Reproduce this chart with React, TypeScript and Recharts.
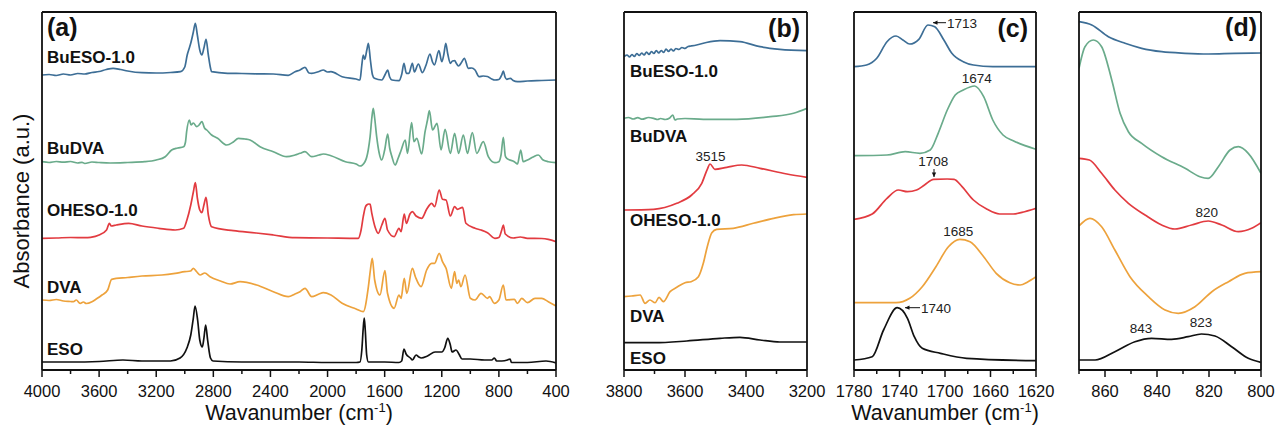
import * as React from 'react'
import { LineChart, Line, XAxis, YAxis } from 'recharts'

type Pt = [number, number]

// series order: BuESO-1.0, BuDVA, OHESO-1.0, DVA, ESO (top to bottom)
const seriesNames = ['BuESO-1.0', 'BuDVA', 'OHESO-1.0', 'DVA', 'ESO']
const seriesColors = ['#3d6e96', '#6aab8b', '#e23b40', '#eda23c', '#111111']

// ---- panel (a): 4000 - 400 cm-1 (stacked absorbance, a.u.)
const aBuEso: Pt[] = [
	[4000, 295], [3950, 295.5], [3900, 294.5], [3850, 296], [3800, 295], [3750, 296.5], [3700, 296],
	[3650, 297.5], [3600, 298.5], [3550, 300.5], [3502, 301.7], [3450, 300.5], [3400, 299], [3300, 297.3],
	[3200, 297], [3100, 297.5], [3030, 298.3], [3000, 303], [2983, 315], [2968, 322], [2956, 328],
	[2940, 338], [2926, 346.7], [2912, 335], [2895, 320], [2880, 315], [2866, 322], [2851, 330.7],
	[2835, 315], [2820, 302], [2812, 298.3], [2700, 296.7], [2600, 296.5], [2500, 296.2], [2380, 296],
	[2275, 294.7], [2228, 298.3], [2193, 300], [2158, 302.7], [2130, 297], [2111, 296.7], [2060, 298.5],
	[2030, 300], [2000, 298], [1976, 298.3], [1898, 293.3], [1800, 291], [1773, 290], [1760, 305],
	[1750, 315], [1740, 310.7], [1725, 320], [1714, 326.7], [1700, 310], [1685, 295], [1672, 291.7],
	[1620, 290], [1595, 296], [1579, 300], [1565, 293], [1549, 290], [1500, 289.3], [1480, 296],
	[1465, 306.7], [1448, 296.7], [1430, 296.7], [1406, 306.7], [1392, 298], [1364, 306], [1336, 297.3],
	[1310, 305], [1283, 316], [1265, 308], [1252, 305], [1220, 319.3], [1200, 308.3], [1185, 316],
	[1172, 326.7], [1158, 316], [1140, 306.7], [1125, 309], [1110, 309.3], [1095, 306], [1082, 304],
	[1060, 308], [1042, 311.7], [1014, 301.7], [990, 302], [967, 300], [939, 293.3], [910, 294],
	[880, 293.5], [850, 291], [828, 290], [800, 290.5], [780, 295], [769, 299], [757, 293], [745, 290.7],
	[720, 291.7], [700, 289.5], [670, 288.3], [600, 289], [500, 289.5], [400, 290],
]
const aBuDva: Pt[] = [
	[4000, 208.3], [3950, 207.5], [3900, 208.5], [3850, 207.8], [3800, 208.5], [3750, 207], [3720, 207.7],
	[3700, 206.5], [3650, 208], [3600, 207.5], [3523, 207], [3400, 207.5], [3280, 208.3], [3200, 210],
	[3137, 213.3], [3092, 220], [3050, 222], [3008, 223.3], [2995, 228], [2987, 238.3], [2968, 250],
	[2956, 245], [2940, 247], [2916, 243.3], [2900, 245], [2880, 248.3], [2862, 242], [2846, 240],
	[2812, 235], [2770, 231.7], [2706, 225], [2660, 228], [2625, 231.7], [2580, 231], [2543, 230],
	[2473, 223.3], [2380, 218.3], [2287, 213.3], [2228, 215], [2193, 216.7], [2158, 218.3], [2111, 213.3],
	[2060, 215], [2030, 216], [1976, 214.3], [1875, 208.3], [1800, 206], [1773, 204], [1738, 208.3],
	[1715, 220], [1702, 233.3], [1690, 252], [1680, 261.7], [1670, 252], [1656, 233.3], [1640, 218],
	[1621, 210], [1600, 220], [1579, 236], [1565, 222], [1549, 213.3], [1527, 205], [1505, 212],
	[1484, 220], [1456, 230], [1440, 216.7], [1411, 247.3], [1395, 228.3], [1375, 231.7], [1341, 216],
	[1317, 238.3], [1300, 250], [1287, 259.3], [1265, 240], [1233, 246.7], [1205, 220], [1177, 240.7],
	[1140, 216.7], [1110, 236.7], [1082, 216.7], [1049, 235], [1020, 216.7], [986, 237.3], [955, 216.7],
	[909, 228.3], [874, 213.3], [828, 207.3], [800, 208.3], [785, 215], [769, 232.7], [755, 214],
	[745, 211.7], [692, 208.3], [670, 206], [647, 220], [630, 208.3], [600, 210], [560, 213], [524, 215],
	[490, 210], [454, 208.3], [400, 207.3],
]
const aOheso: Pt[] = [
	[4000, 131.7], [3900, 132], [3800, 132.5], [3700, 132.3], [3660, 132.7], [3600, 135], [3548, 140],
	[3528, 146.7], [3515, 144], [3480, 145], [3393, 146.7], [3300, 144], [3183, 141.7], [3067, 140],
	[3008, 141.7], [2985, 150], [2958, 165], [2940, 178], [2926, 187.3], [2912, 172], [2895, 160],
	[2880, 157.3], [2866, 165], [2851, 172.7], [2835, 155], [2812, 143.3], [2660, 139.3], [2500, 137],
	[2380, 135], [2228, 132.3], [2000, 132], [1785, 131.7], [1765, 140], [1750, 153.3], [1735, 163],
	[1726, 165], [1710, 166], [1702, 165.7], [1690, 156.7], [1665, 142], [1645, 136.7], [1620, 145],
	[1598, 151.7], [1580, 140], [1534, 133.3], [1500, 141.7], [1485, 138.3], [1463, 156], [1448, 146.7],
	[1423, 156], [1406, 158.3], [1380, 154], [1341, 151.7], [1306, 160.7], [1271, 166.7], [1250, 163.3],
	[1218, 180], [1195, 170.7], [1170, 170], [1140, 154], [1110, 163.3], [1090, 160.7], [1054, 162.7],
	[1031, 146.7], [967, 141.7], [925, 140], [880, 137.3], [828, 131.7], [800, 132.5], [780, 140],
	[769, 145], [755, 136], [700, 132], [650, 133], [600, 131.7], [500, 131.5], [454, 130.7], [400, 128.3],
]
const aDva: Pt[] = [
	[4000, 70], [3950, 69.5], [3900, 70.5], [3850, 69], [3800, 68.5], [3780, 68.3], [3760, 70], [3733, 66.7],
	[3710, 68], [3690, 66.5], [3650, 68.3], [3620, 71], [3580, 75], [3540, 80], [3512, 90.7], [3400, 92.5],
	[3300, 94], [3160, 95], [3067, 96.7], [3000, 98.3], [2960, 99], [2940, 101.7], [2915, 98], [2893, 95],
	[2860, 97], [2823, 93.3], [2750, 89], [2683, 86], [2613, 88.3], [2497, 85], [2380, 78.3], [2275, 73.3],
	[2228, 76], [2193, 78.3], [2158, 81.7], [2111, 73.3], [2060, 76], [2030, 77.3], [1976, 75], [1898, 66.7],
	[1800, 61], [1750, 58.3], [1714, 83.3], [1700, 100], [1687, 111.7], [1670, 90], [1633, 75], [1598, 99.3],
	[1580, 76.7], [1534, 61.7], [1500, 75], [1485, 71.7], [1463, 91.7], [1445, 76.7], [1406, 101.7],
	[1385, 93.3], [1345, 83.3], [1306, 100], [1271, 106.7], [1250, 106.7], [1218, 116.7], [1195, 108.3],
	[1170, 101.7], [1133, 81.7], [1110, 98.3], [1095, 86.7], [1082, 90], [1066, 83.3], [1037, 95],
	[1000, 71.7], [967, 70], [925, 76.7], [880, 71.7], [865, 73.3], [832, 66.7], [800, 70], [769, 85],
	[750, 70], [692, 70.7], [670, 66.7], [640, 71.7], [600, 67.3], [547, 71.7], [500, 71.7], [454, 68.3],
	[400, 64],
]
const aEso: Pt[] = [
	[4000, 8], [3800, 8], [3600, 8.5], [3433, 10], [3300, 9], [3100, 9], [3033, 12], [2985, 22], [2958, 35],
	[2940, 52], [2928, 64], [2910, 50], [2895, 30], [2877, 23], [2865, 33], [2854, 45], [2840, 30],
	[2820, 12], [2802, 9], [2600, 8], [2400, 8], [2200, 8], [2000, 7.5], [1800, 7.5], [1773, 8], [1760, 20],
	[1750, 42], [1743, 52], [1736, 40], [1726, 15], [1714, 8], [1600, 8], [1500, 7.5], [1481, 9],
	[1465, 21], [1450, 16], [1420, 12], [1406, 10], [1380, 15], [1360, 13], [1345, 12], [1300, 14],
	[1247, 18], [1200, 18], [1180, 22], [1158, 31.7], [1140, 25], [1128, 18], [1100, 20], [1080, 16],
	[1058, 11], [1000, 11], [900, 10], [850, 10], [832, 12], [815, 9], [780, 9], [740, 10], [722, 11],
	[712, 7.5], [600, 7.5], [470, 9], [400, 7],
]

// ---- panel (b): 3800 - 3200 cm-1
const bBuEso: Pt[] = [
	[3800, 313.3], [3790, 315], [3782, 313], [3774, 315.5], [3766, 313.5], [3758, 316.5], [3750, 314.5],
	[3742, 317], [3734, 315], [3726, 318], [3718, 315.5], [3710, 318.5], [3702, 316.5], [3694, 319.5],
	[3686, 317], [3678, 319.5], [3670, 317.5], [3662, 321], [3654, 318.5], [3646, 321], [3638, 319],
	[3630, 321.5], [3620, 320.5], [3610, 322.5], [3600, 321.5], [3590, 323.5], [3580, 324],
	[3562, 325], [3530, 327.5], [3485, 329.3], [3420, 328.3], [3354, 323.3], [3289, 320.7], [3200, 319.3],
]
const bBuDva: Pt[] = [
	[3800, 251.7], [3785, 252.5], [3770, 251], [3755, 252.3], [3740, 250.8], [3720, 252.5], [3703, 251.7],
	[3690, 250.5], [3680, 251.5], [3665, 250.5], [3650, 252], [3640, 255], [3633, 250], [3625, 251],
	[3600, 251.5], [3540, 250.7], [3430, 250.7], [3320, 253.3], [3244, 256.7], [3200, 261.7],
]
const bOheso: Pt[] = [
	[3800, 160], [3703, 160.7], [3627, 166.7], [3578, 175], [3545, 186.7], [3527, 200.7], [3518, 206],
	[3502, 200.7], [3463, 202.7], [3414, 205], [3354, 201.7], [3266, 196], [3200, 192.7],
]
const bDva: Pt[] = [
	[3800, 73.3], [3775, 74], [3747, 75], [3731, 66.7], [3715, 70], [3698, 67.3], [3685, 72.7], [3671, 68.3],
	[3649, 78.3], [3627, 82.7], [3600, 87.3], [3580, 88.3], [3556, 93.3], [3540, 106.7], [3527, 123.3],
	[3512, 137.3], [3496, 140.7], [3442, 141.7], [3376, 146.7], [3310, 151.7], [3244, 155.3], [3200, 156],
]
const bEso: Pt[] = [
	[3800, 27.3], [3700, 27.3], [3594, 29], [3485, 31.7], [3420, 32.7], [3354, 30], [3289, 28], [3200, 28],
]

// ---- panel (c): 1780 - 1620 cm-1
const cBuEso: Pt[] = [
	[1780, 303.3], [1769, 305], [1760, 311.7], [1751, 328.3], [1743, 334], [1737, 330], [1731, 326],
	[1723, 330.7], [1715, 345], [1709, 343.3], [1701, 330], [1694, 316.7], [1684, 308.3], [1675, 305],
	[1658, 303.3], [1620, 303.3],
]
const cBuDva: Pt[] = [
	[1780, 214.3], [1751, 215], [1735, 218.3], [1722, 216.7], [1713, 220], [1706, 236.7], [1698, 260],
	[1691, 275], [1684, 280], [1674, 284], [1666, 273.3], [1658, 250], [1649, 235], [1640, 229.3],
	[1620, 220.7],
]
const cOheso: Pt[] = [
	[1780, 150.7], [1764, 156], [1751, 171.7], [1741, 180], [1733, 178.3], [1725, 180], [1718, 185],
	[1710, 190.7], [1698, 191], [1692, 190.7], [1685, 183.3], [1675, 170], [1663, 160.7], [1652, 156],
	[1640, 156], [1630, 158.3], [1620, 161.7],
]
const cDva: Pt[] = [
	[1780, 67.3], [1743, 67.3], [1731, 71.7], [1720, 83.3], [1708, 103.3], [1697, 123.3], [1687, 130.7],
	[1678, 128.3], [1666, 113.3], [1655, 96.7], [1643, 87.3], [1634, 85], [1627, 88.3], [1620, 93.3],
]
const cEso: Pt[] = [
	[1780, 10], [1764, 13.3], [1754, 40], [1742, 62.3], [1733, 51.7], [1727, 33.3], [1720, 21.7],
	[1704, 16.7], [1681, 11.7], [1620, 9.3],
]

// ---- panel (d): 870 - 800 cm-1
const dBuEso: Pt[] = [
	[870, 348.3], [865.1, 345], [858.7, 333.3], [852.3, 326.7], [845.9, 321.7], [838.2, 318.3],
	[829.2, 316.7], [820.3, 316], [810, 316.7], [800, 317],
]
const dBuDva: Pt[] = [
	[870, 301.7], [867.7, 323.3], [864.5, 330], [861.3, 323.3], [857.4, 290], [854.2, 256.7], [851, 238.3],
	[845.9, 226.7], [838.2, 213.3], [829.2, 201.7], [823.5, 193.3], [820.3, 191.7], [816.4, 203.3],
	[811.9, 220], [808.7, 223.3], [804.9, 216.7], [800, 196.7],
]
const dOheso: Pt[] = [
	[870, 211.7], [866, 210], [861.3, 196.7], [856.2, 180], [851, 166.7], [844.6, 155], [838.2, 145],
	[833.1, 141], [826.7, 145], [820.3, 149], [815.1, 145], [808.7, 138.3], [803.6, 141.7], [800, 147.3],
]
const dDva: Pt[] = [
	[870, 144], [865.8, 151.7], [861.3, 143.3], [856.2, 120], [850.4, 93.3], [843.3, 73.3], [836.9, 60],
	[831.8, 56.7], [825.4, 63.3], [818.9, 78.3], [812.5, 88.3], [806.2, 96.7], [800, 98.3],
]
const dEso: Pt[] = [
	[870, 10], [863.8, 10], [856.2, 18.3], [848.5, 28.3], [842.1, 31.7], [834.4, 30.7], [828, 33.3],
	[822.9, 36], [817.7, 34], [811.3, 23.3], [804.9, 11.7], [800, 7.7],
]

// tick positions
const aTicks = [4000, 3800, 3600, 3400, 3200, 3000, 2800, 2600, 2400, 2200, 2000, 1800, 1600, 1400, 1200, 1000, 800, 600, 400]
const bTicks = [3800, 3700, 3600, 3500, 3400, 3300, 3200]
const cTicks = [1780, 1760, 1740, 1720, 1700, 1680, 1660, 1640, 1620]
const dTicks = [870, 860, 850, 840, 830, 820, 810, 800]

const FONT = '"Liberation Sans", Arial, Helvetica, sans-serif'
const H = 427
const Y_MAX = 358
const axisStyle = { stroke: '#111', strokeWidth: 1.8 }

const toRows = (pts: Pt[]) => pts.map(([w, v]) => ({ w, v }))

const makeTick = (start: number, major: number) => (props: any) => {
	const { x, y, payload } = props
	const v = payload.value
	const isMajor = Math.abs((v - start) % major) < 1e-6
	return (
		<g>
			<line x1={x} x2={x} y1={y} y2={y + (isMajor ? 7 : 4)} stroke="#111" strokeWidth={1.5} />
			{isMajor && (
				<text x={x} y={y + 27} textAnchor="middle" fontSize={16.5} fontFamily={FONT} fill="#111">
					{v}
				</text>
			)}
		</g>
	)
}

type PanelProps = {
	left: number
	width: number
	plotLeft: number
	plotRight: number
	domain: [number, number]
	ticks: number[]
	major: number
	series: Pt[][]
}

// the frame axes get a 1px size (a zero-sized axis is not drawn), margins compensate
const Panel = ({ left, width, plotLeft, plotRight, domain, ticks, major, series }: PanelProps) => (
	<div style={{ position: 'absolute', left, top: 0 }}>
		<LineChart
			width={width}
			height={H}
			margin={{ top: 11, left: plotLeft - 1, right: width - plotRight - 1, bottom: 27 }}
		>
			<XAxis
				dataKey="w"
				type="number"
				domain={domain}
				reversed
				allowDataOverflow
				ticks={ticks}
				interval={0}
				height={30}
				tickSize={0}
				tickMargin={0}
				tickLine={false}
				axisLine={axisStyle}
				tick={makeTick(domain[0], major)}
			/>
			<XAxis
				xAxisId="top"
				orientation="top"
				type="number"
				domain={domain}
				reversed
				height={1}
				tick={false}
				tickLine={false}
				axisLine={axisStyle}
			/>
			<YAxis type="number" domain={[0, Y_MAX]} width={1} tick={false} tickLine={false} axisLine={axisStyle} />
			<YAxis
				yAxisId="right"
				orientation="right"
				type="number"
				domain={[0, Y_MAX]}
				width={1}
				tick={false}
				tickLine={false}
				axisLine={axisStyle}
			/>
			{series.map((s, i) => (
				<Line
					key={seriesNames[i]}
					name={seriesNames[i]}
					data={toRows(s)}
					dataKey="v"
					type="monotone"
					stroke={seriesColors[i]}
					strokeWidth={1.7}
					dot={false}
					isAnimationActive={false}
				/>
			))}
		</LineChart>
	</div>
)

const Arrow = ({ x1, y1, x2, y2 }: { x1: number; y1: number; x2: number; y2: number }) => {
	const a = Math.atan2(y2 - y1, x2 - x1)
	const l = 5
	const p1 = [x2 - l * Math.cos(a - 0.45), y2 - l * Math.sin(a - 0.45)]
	const p2 = [x2 - l * Math.cos(a + 0.45), y2 - l * Math.sin(a + 0.45)]
	return (
		<g>
			<line x1={x1} y1={y1} x2={x2} y2={y2} stroke="#111" strokeWidth={1} />
			<polygon points={`${x2},${y2} ${p1[0]},${p1[1]} ${p2[0]},${p2[1]}`} fill="#111" />
		</g>
	)
}

const labelA = [62.7, 154, 215.7, 292.7, 355]
const labelB = [77.3, 141.7, 226, 321.7, 364]

const Overlay = () => (
	<svg
		width={1276}
		height={H}
		style={{ position: 'absolute', left: 0, top: 0, pointerEvents: 'none' }}
		fontFamily={FONT}
	>
		{/* series labels */}
		{seriesNames.map((n, i) => (
			<text key={`a${n}`} x={47} y={labelA[i]} fontSize={17} fontWeight="bold" fill="#111">
				{n}
			</text>
		))}
		{seriesNames.map((n, i) => (
			<text key={`b${n}`} x={630} y={labelB[i]} fontSize={17} fontWeight="bold" fill="#111">
				{n}
			</text>
		))}
		{/* panel tags */}
		<text x={47} y={36} fontSize={25} fontWeight="bold" fill="#111">(a)</text>
		<text x={800} y={36.5} fontSize={25} fontWeight="bold" fill="#111" textAnchor="end">(b)</text>
		<text x={1028} y={36.5} fontSize={25} fontWeight="bold" fill="#111" textAnchor="end">(c)</text>
		<text x={1257} y={36} fontSize={25} fontWeight="bold" fill="#111" textAnchor="end">(d)</text>
		{/* peak annotations */}
		<text x={710.5} y={160.7} fontSize={13.5} textAnchor="middle" fill="#222">3515</text>
		<Arrow x1={946} y1={22.7} x2={933} y2={22.7} />
		<text x={947} y={27.5} fontSize={13.5} fill="#222">1713</text>
		<text x={976.7} y={82.7} fontSize={13.5} textAnchor="middle" fill="#222">1674</text>
		<text x={933.3} y={166} fontSize={13.5} textAnchor="middle" fill="#222">1708</text>
		<Arrow x1={934} y1={169} x2={934} y2={177} />
		<text x={958.3} y={236} fontSize={13.5} textAnchor="middle" fill="#222">1685</text>
		<Arrow x1={920} y1={307.7} x2={905} y2={307.7} />
		<text x={921} y={312.5} fontSize={13.5} fill="#222">1740</text>
		<text x={1206.7} y={216.7} fontSize={13.5} textAnchor="middle" fill="#222">820</text>
		<text x={1141} y={332.7} fontSize={13.5} textAnchor="middle" fill="#222">843</text>
		<text x={1201} y={326.7} fontSize={13.5} textAnchor="middle" fill="#222">823</text>
		{/* axis titles */}
		<text x={29} y={201} fontSize={22} fill="#111" textAnchor="middle" transform="rotate(-90 29 201)">
			Absorbance (a.u.)
		</text>
		<text x={299} y={420} fontSize={21.5} fill="#111" textAnchor="middle">
			Wavanumber (cm<tspan dy={-8} fontSize={13}>-1</tspan>
			<tspan dy={8}>)</tspan>
		</text>
		<text x={945} y={420} fontSize={21.5} fill="#111" textAnchor="middle">
			Wavanumber (cm<tspan dy={-8} fontSize={13}>-1</tspan>
			<tspan dy={8}>)</tspan>
		</text>
	</svg>
)

export default function App() {
	return (
		<div style={{ position: 'absolute', left: 0, top: 0, width: 1276, height: H, background: '#fff' }}>
			<Panel
				left={0}
				width={600}
				plotLeft={42}
				plotRight={556}
				domain={[400, 4000]}
				ticks={aTicks}
				major={400}
				series={[aBuEso, aBuDva, aOheso, aDva, aEso]}
			/>
			<Panel
				left={600}
				width={230}
				plotLeft={24}
				plotRight={207}
				domain={[3200, 3800]}
				ticks={bTicks}
				major={200}
				series={[bBuEso, bBuDva, bOheso, bDva, bEso]}
			/>
			<Panel
				left={830}
				width={230}
				plotLeft={24}
				plotRight={206}
				domain={[1620, 1780]}
				ticks={cTicks}
				major={40}
				series={[cBuEso, cBuDva, cOheso, cDva, cEso]}
			/>
			<Panel
				left={1055}
				width={221}
				plotLeft={24}
				plotRight={206}
				domain={[800, 870]}
				ticks={dTicks}
				major={20}
				series={[dBuEso, dBuDva, dOheso, dDva, dEso]}
			/>
			<Overlay />
		</div>
	)
}
